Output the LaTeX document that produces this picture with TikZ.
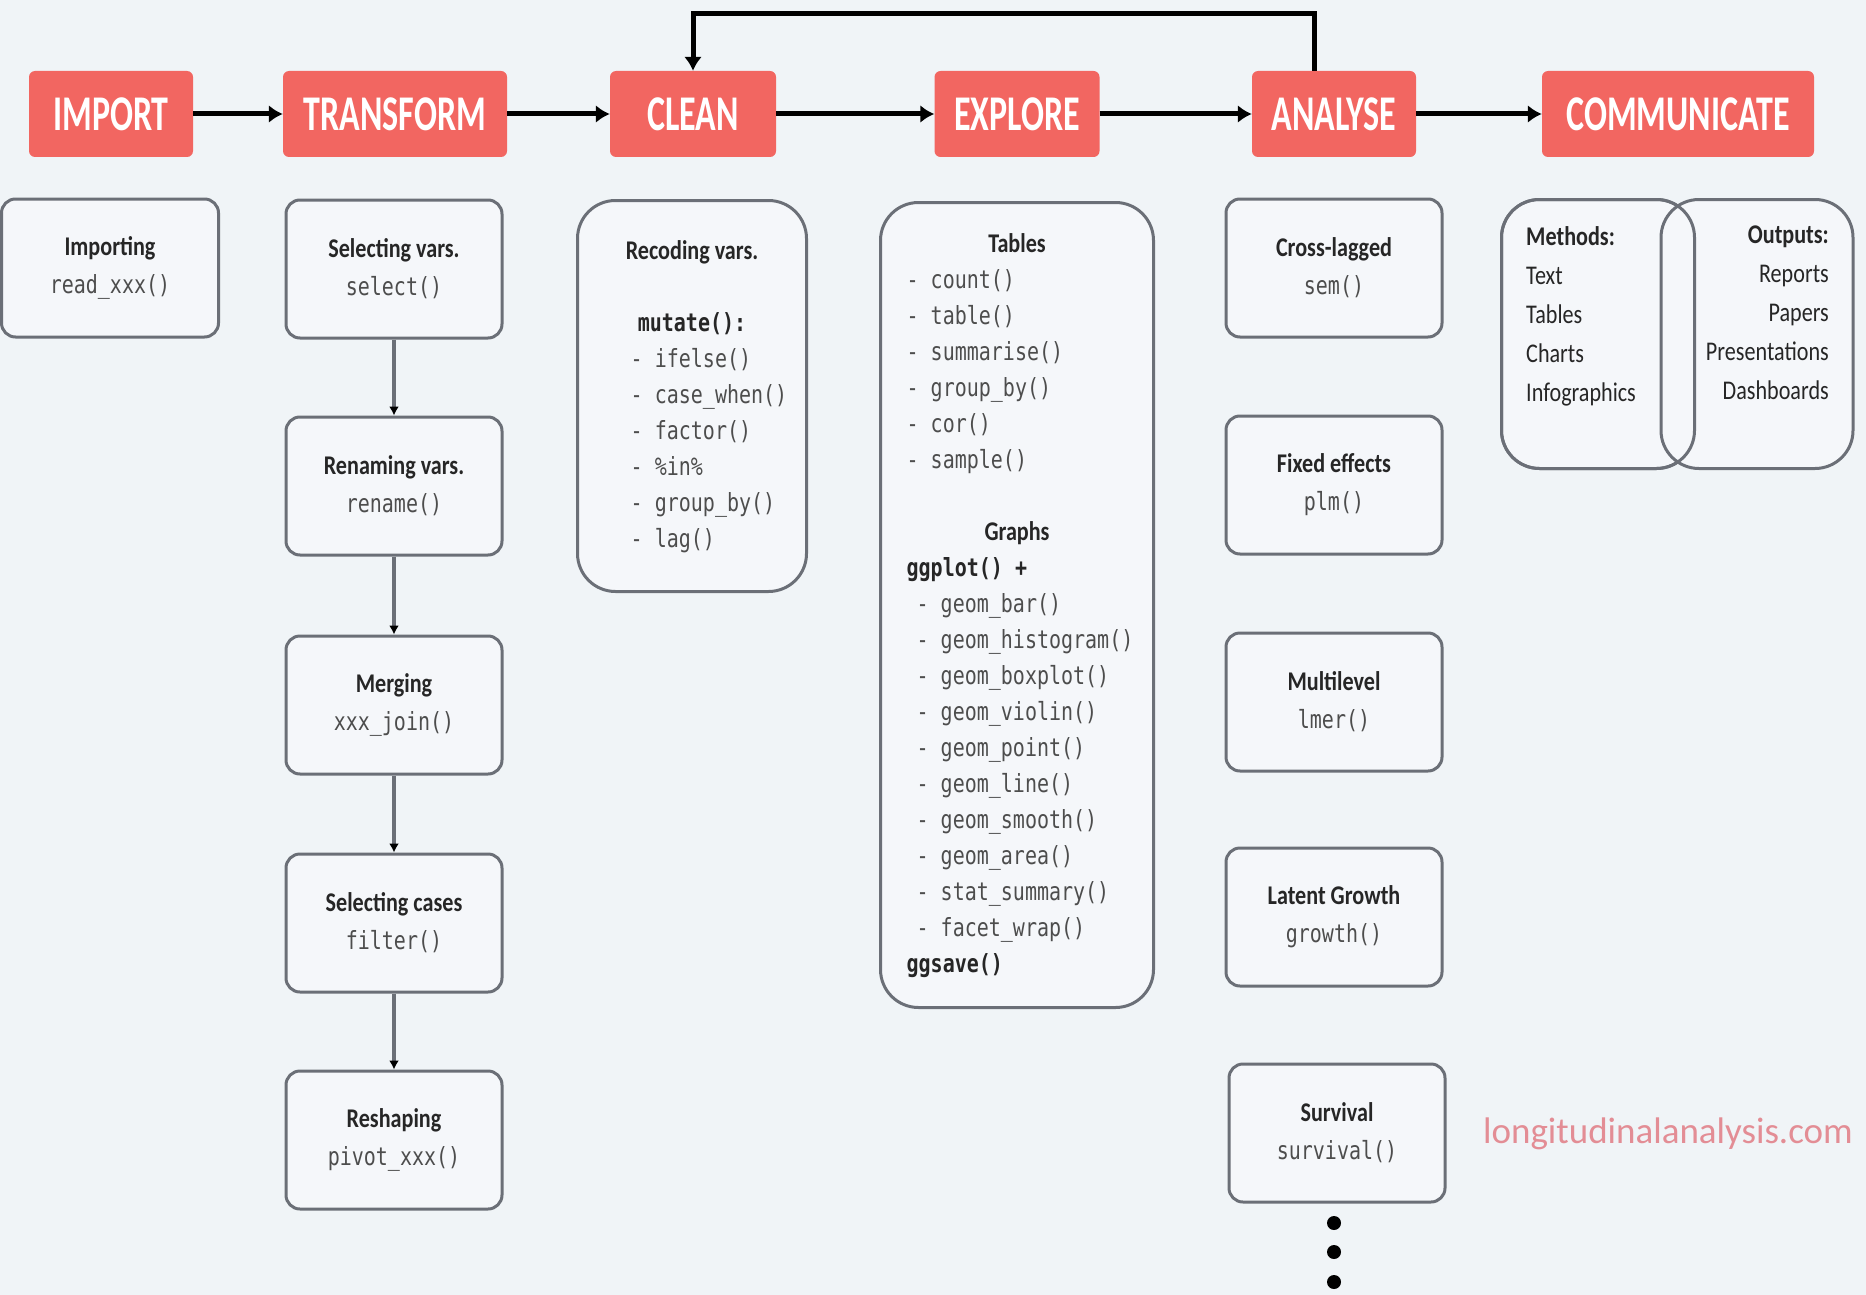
\documentclass[tikz,border=0pt]{standalone}
\usepackage{fontspec}
\setmainfont{Carlito}
\newfontfamily\titlefont[FakeStretch=0.68]{Carlito}
\newfontfamily\labelfont[FakeStretch=0.82]{Carlito}
\newfontfamily\codefont[FakeStretch=0.8]{DejaVu Sans Mono}
\usetikzlibrary{graphs,arrows.meta}

\definecolor{bgcol}{HTML}{F0F4F7}
\definecolor{stagered}{HTML}{F26661}
\definecolor{boxgray}{HTML}{6B6F77}
\definecolor{boxfill}{HTML}{F5F7FA}
\definecolor{textdark}{HTML}{262626}
\definecolor{codegray}{HTML}{4D4D4D}
\definecolor{urlred}{HTML}{E38D95}

\newcommand{\code}[1]{{\codefont\fontsize{25}{36}\selectfont\color{codegray}#1}}
\newcommand{\bcode}[1]{{\codefont\bfseries\fontsize{25}{36}\selectfont\color{textdark}#1}}
\newcommand{\colhead}[1]{\multicolumn{1}{@{}c@{}}{#1}}

\tikzset{
  stage/.style={fill=stagered, text=white, rounded corners=6pt, minimum height=86pt,
    inner xsep=0pt, font=\titlefont\bfseries\fontsize{50}{50}\selectfont},
  toolbox/.style={draw=boxgray, fill=boxfill, line width=3pt, rounded corners=14pt,
    minimum width=216pt, minimum height=138pt, align=center, text=textdark,
    font=\labelfont\fontsize{27}{38}\selectfont},
  listbox/.style={draw=boxgray, fill=boxfill, line width=3pt, rounded corners=38pt,
    inner sep=0pt, outer sep=0pt, text=textdark, font=\labelfont\fontsize{27}{36}\selectfont},
  flow/.style={draw=black, line width=5pt, -{Latex[length=14pt,width=18pt]}},
  link/.style={draw=boxgray, line width=3.5pt, -{Latex[length=9pt,width=10pt,color=black]}},
}

\begin{document}
\begin{tikzpicture}[x=1pt,y=-1pt]
  \path[use as bounding box, fill=bgcol] (0,0) rectangle (1866,1295);

  % stages
  \node[stage, minimum width=164pt] (import) at (111,114) {IMPORT};
  \node[stage, minimum width=224pt] (transform) at (395,114) {TRANSFORM};
  \node[stage, minimum width=166pt] (clean) at (693,114) {CLEAN};
  \node[stage, minimum width=165pt] (explore) at (1017,114) {EXPLORE};
  \node[stage, minimum width=164pt] (analyse) at (1334,114) {ANALYSE};
  \node[stage, minimum width=272pt] (communicate) at (1678,114) {COMMUNICATE};

  \graph[edges=flow]{
    (import) -- (transform) -- (clean) -- (explore) -- (analyse) -- (communicate)
  };
  \draw[flow] ([xshift=-20pt]analyse.north) -- ++(0,-57) -| (clean.north);

  % import
  \node[toolbox, minimum width=217pt] (importing) at (110,268) {\textbf{Importing}\\\code{read\_xxx()}};

  % transform
  \node[toolbox] (selvars) at (394,269) {\textbf{Selecting vars.}\\\code{select()}};
  \node[toolbox] (renvars) at (394,486) {\textbf{Renaming vars.}\\\code{rename()}};
  \node[toolbox] (merging) at (394,705) {\textbf{Merging}\\\code{xxx\_join()}};
  \node[toolbox] (selcases) at (394,923) {\textbf{Selecting cases}\\\code{filter()}};
  \node[toolbox] (reshaping) at (394,1140) {\textbf{Reshaping}\\\code{pivot\_xxx()}};

  \graph[edges=link]{
    (selvars) -- (renvars) -- (merging) -- (selcases) -- (reshaping)
  };

  % clean
  \node[listbox, minimum width=229pt, minimum height=391pt] (recoding) at (692,396) {%
    \begin{tabular}{@{\hspace{34pt}}l@{}}
      \colhead{\textbf{Recoding vars.}}\\
      \\
      \colhead{\bcode{mutate():}}\\
      \code{- ifelse()}\\
      \code{- case\_when()}\\
      \code{- factor()}\\
      \code{- \%in\%}\\
      \code{- group\_by()}\\
      \code{- lag()}
    \end{tabular}};

  % explore
  \node[listbox, minimum width=273pt, minimum height=805pt] (tools) at (1017,605) {%
    \begin{tabular}{@{\hspace{6pt}}l@{}}
      \colhead{\textbf{Tables}}\\
      \code{- count()}\\
      \code{- table()}\\
      \code{- summarise()}\\
      \code{- group\_by()}\\
      \code{- cor()}\\
      \code{- sample()}\\
      \\
      \colhead{\textbf{Graphs}}\\
      \bcode{ggplot() +}\\
      \hspace*{10pt}\code{- geom\_bar()}\\
      \hspace*{10pt}\code{- geom\_histogram()}\\
      \hspace*{10pt}\code{- geom\_boxplot()}\\
      \hspace*{10pt}\code{- geom\_violin()}\\
      \hspace*{10pt}\code{- geom\_point()}\\
      \hspace*{10pt}\code{- geom\_line()}\\
      \hspace*{10pt}\code{- geom\_smooth()}\\
      \hspace*{10pt}\code{- geom\_area()}\\
      \hspace*{10pt}\code{- stat\_summary()}\\
      \hspace*{10pt}\code{- facet\_wrap()}\\
      \bcode{ggsave()}
    \end{tabular}};

  % analyse
  \node[toolbox] (crosslag) at (1334,268) {\textbf{Cross-lagged}\\\code{sem()}};
  \node[toolbox] (fixed) at (1334,485) {\textbf{Fixed effects}\\\code{plm()}};
  \node[toolbox] (multilevel) at (1334,702) {\textbf{Multilevel}\\\code{lmer()}};
  \node[toolbox] (growth) at (1334,917) {\textbf{Latent Growth}\\\code{growth()}};
  \node[toolbox] (survival) at (1337,1133) {\textbf{Survival}\\\code{survival()}};

  \fill (1334,1223) circle (7pt);
  \fill (1334,1252) circle (7pt);
  \fill (1334,1282) circle (7pt);

  % communicate
  \node[listbox, minimum width=193pt, minimum height=269pt] (methods) at (1598,334) {};
  \node[listbox, minimum width=192pt, minimum height=269pt] (outputs) at (1757,334) {};
  \draw[boxgray, line width=3pt, rounded corners=38pt] (methods.south west) rectangle (methods.north east);
  \node[anchor=north west, align=left, inner sep=0pt, text=textdark,
    font=\labelfont\fontsize{27}{39}\selectfont] (methodlist) at (1526,226)
    {\textbf{Methods:}\\Text\\Tables\\Charts\\Infographics};
  \node[anchor=north east, align=right, inner sep=0pt, text=textdark,
    font=\labelfont\fontsize{27}{39}\selectfont] (outputlist) at (1829,226)
    {\textbf{Outputs:}\\Reports\\Papers\\Presentations\\Dashboards};

  \node[text=urlred, font=\fontsize{37}{40}\selectfont] (site) at (1668,1134) {longitudinalanalysis.com};
\end{tikzpicture}
\end{document}
